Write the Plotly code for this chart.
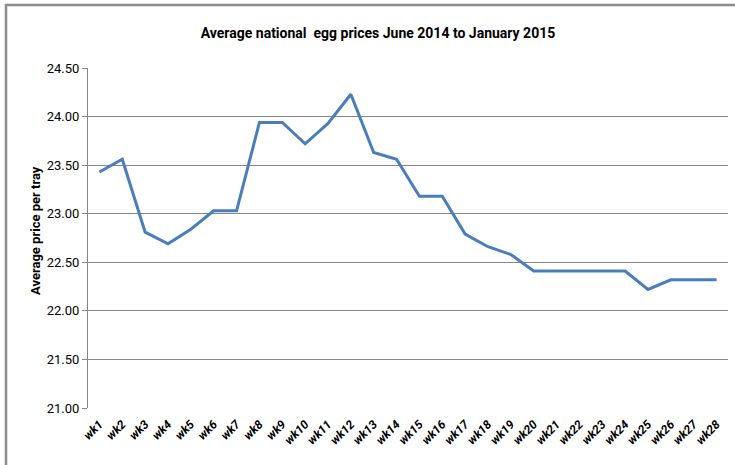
import plotly.graph_objects as go

weeks = [f"wk{i}" for i in range(1, 29)]
prices = [23.43, 23.56, 22.81, 22.69, 22.84, 23.03, 23.03, 23.94, 23.94, 23.72,
          23.93, 24.23, 23.63, 23.56, 23.18, 23.18, 22.79, 22.66, 22.58, 22.41,
          22.41, 22.41, 22.41, 22.41, 22.22, 22.32, 22.32, 22.32]
y_ticks = [21.0, 21.5, 22.0, 22.5, 23.0, 23.5, 24.0, 24.5]
title = "Average national  egg prices June 2014 to January 2015"
y_title = "Average price per tray"

FONT = "Roboto, Liberation Sans, Arial"
W, H = 735, 465
L, R, T, B = 88, 7, 68, 57

fig = go.Figure(go.Scatter(x=weeks, y=prices, mode="lines",
                           line=dict(color="#4a7ebb", width=3)))

pw, ph = W - L - R, H - T - B
def px(x): return (x - L) / pw
def py(y): return (H - B - y) / ph

fig.update_layout(
    width=W, height=H,
    margin=dict(l=L, r=R, t=T, b=B, autoexpand=False),
    plot_bgcolor="white", paper_bgcolor="white",
    showlegend=False,
    title=dict(text=title, x=378 / W, xanchor="center", y=1 - 33 / H, yanchor="middle",
               font=dict(family=FONT, size=14, color="black", weight="bold")),
    xaxis=dict(showgrid=False, showline=False, ticks="", tickangle=-45,
               range=[-0.5, len(weeks) - 0.5], ticklabelstandoff=6,
               tickfont=dict(family=FONT, size=12, color="black", weight="bold", style="italic")),
    yaxis=dict(range=[21.0, 24.5], tickvals=y_ticks, ticktext=[f"{v:.2f}" for v in y_ticks],
               showgrid=True, gridcolor="#868686", gridwidth=1,
               showline=True, linecolor="#868686", linewidth=1,
               ticks="outside", ticklen=5, tickcolor="#868686",
               tickfont=dict(family=FONT, size=13, color="black"),
               zeroline=False),
    annotations=[
        dict(text=y_title, xref="paper", yref="paper", x=px(35), y=py(231),
             xanchor="center", yanchor="middle", textangle=-90, showarrow=False,
             font=dict(family=FONT, size=13, color="black", weight="bold")),
    ],
    shapes=[
        dict(type="line", xref="paper", yref="paper", x0=px(6), x1=px(6), y0=py(4), y1=py(470),
             line=dict(color="#8c8c8c", width=2.5)),
        dict(type="line", xref="paper", yref="paper", x0=px(5), x1=px(740), y0=py(5), y1=py(5),
             line=dict(color="#8c8c8c", width=2.5)),
    ],
)

fig.write_html("out.html", config={"displayModeBar": False},
               post_script="document.body.style.margin='0';")
